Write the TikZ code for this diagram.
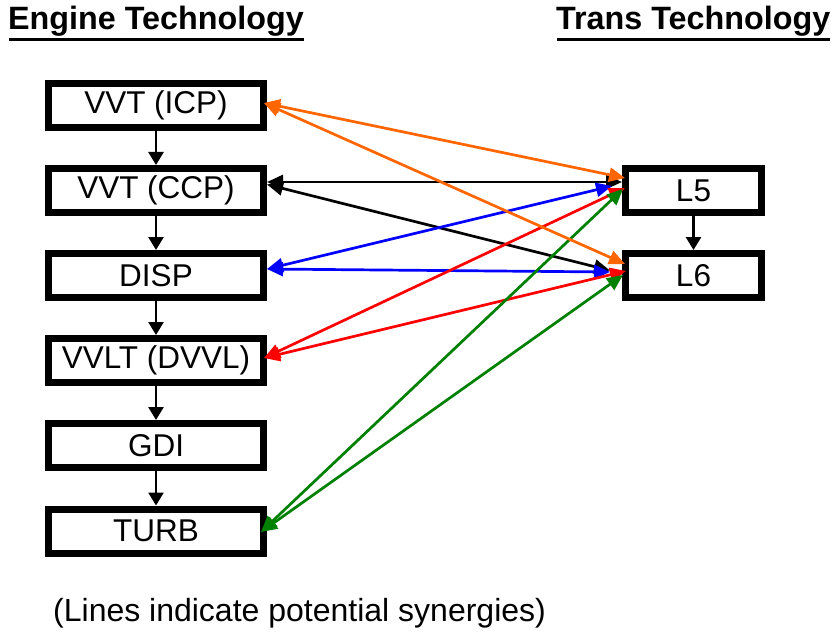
\documentclass[tikz,border=0pt]{standalone}
\usepackage{fontspec}
\setmainfont{Liberation Sans}
\usetikzlibrary{arrows.meta,calc}
\definecolor{synorange}{HTML}{FF6600}
\definecolor{synblue}{HTML}{0000FF}
\definecolor{synred}{HTML}{FF0000}
\definecolor{syngreen}{HTML}{008000}
\tikzset{
  techbox/.style={draw=black, line width=7pt, fill=white, inner sep=0pt,
    minimum height=44pt, font=\fontsize{31.5}{36}\selectfont},
  engbox/.style={techbox, minimum width=215pt},
  trbox/.style={techbox, minimum width=136pt},
  flow/.style={line width=2.7pt, -{Triangle[length=13pt,width=15pt]}},
  syn/.style={line width=2.7pt, {Triangle[length=16pt,width=14pt]}-{Triangle[length=16pt,width=14pt]}},
  title/.style={inner sep=0pt, anchor=base west, font=\fontsize{32.3}{37}\selectfont\bfseries},
  uline/.style={line width=3pt}
}
\begin{document}
\begin{tikzpicture}[x=1pt,y=-1pt]
\useasboundingbox (0,0) rectangle (834,631);

% titles
\node[title] (t1) at (8,30) {Engine Technology};
\node[title] (t2) at (556,30) {Trans Technology};
\draw[uline] ($(t1.base west)+(1,10)$) -- ($(t1.base east)+(0,10)$);
\draw[uline] ($(t2.base west)+(1,10)$) -- ($(t2.base east)+(0,10)$);

% engine boxes
\node[engbox] (icp)  at (156,105.5) {VVT (ICP)};
\node[engbox] (ccp)  at (156,190.5) {VVT (CCP)};
\node[engbox] (disp) at (156,275.5) {DISP};
\node[engbox] (vvlt) at (156,360.5) {VVLT (DVVL)};
\node[engbox] (gdi)  at (156,445.5) {GDI};
\node[engbox] (turb) at (156,531)   {TURB};

% trans boxes
\node[trbox] (l5) at (693.5,190.5) {L5};
\node[trbox] (l6) at (693.5,275.5) {L6};

% vertical flow arrows
\draw[flow] (icp.south) -- (ccp.north);
\draw[flow] (ccp.south) -- (disp.north);
\draw[flow] (disp.south) -- (vvlt.north);
\draw[flow] (vvlt.south) -- (gdi.north);
\draw[flow] (gdi.south) -- (turb.north);
\draw[flow] (l5.south) -- (l6.north);

% synergy lines
\draw[syn, black] ($(ccp.east)+(0,-8.5)$) -- ($(l5.west)+(0,-8.5)$);
\draw[syn, black] ($(ccp.east)+(0,-6)$) -- ($(l6.west)+(-12,-5)$);
\draw[syn, synblue] ($(disp.east)+(0,-6.5)$) -- ($(l5.west)+(-10,-4.5)$);
\draw[syn, synblue] ($(disp.east)+(0,-6.5)$) -- ($(l6.west)+(-12,-3.5)$);
\draw[syn, synred] ($(vvlt.east)+(-3,-2.5)$) -- ($(l5.west)+(3,-2.5)$);
\draw[syn, synred] ($(vvlt.east)+(-3,-2.5)$) -- ($(l6.west)+(4,-4.5)$);
\draw[syn, syngreen] ($(turb.east)+(-6,1)$) -- ($(l5.west)+(1,-1.5)$);
\draw[syn, syngreen] ($(turb.east)+(-6,1)$) -- ($(l6.west)+(1,-0.5)$);
\draw[syn, synorange] ($(icp.east)+(-3,-2.5)$) -- ($(l5.west)+(3,-12.5)$);
\draw[syn, synorange] ($(icp.east)+(-3,-2.5)$) -- ($(l6.west)+(3,-11.5)$);

% caption
\node[inner sep=0pt, anchor=base west, font=\fontsize{32}{37}\selectfont] (cap) at (53,621) {(Lines indicate potential synergies)};
\end{tikzpicture}
\end{document}
